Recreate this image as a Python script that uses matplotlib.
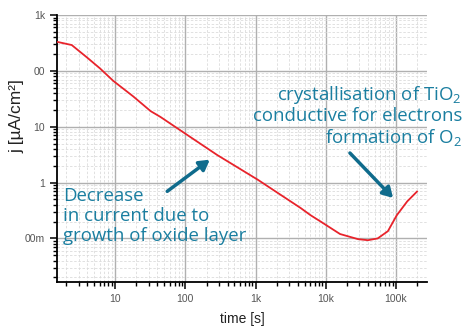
import numpy as np
import matplotlib
matplotlib.use("Agg")
from matplotlib import pyplot as plt
from matplotlib import ticker

# dados (tempo em s, densidade de corrente em uA/cm2)
tempo = [1.5, 2.4, 4.0, 6.1, 9.4, 18, 32, 44, 100, 286, 1070, 4400, 6100,
         8500, 16000, 29000, 40000, 55000, 77000, 103000, 145000, 200000]
corrente = [330, 290, 172, 110, 66, 35, 19, 15, 7.5, 3.1, 1.13, 0.35, 0.26,
            0.2, 0.12, 0.097, 0.093, 0.1, 0.135, 0.26, 0.46, 0.69]

x_ticks = [10, 100, 1e3, 1e4, 1e5]
x_labels = ['10', '100', '1k', '10k', '100k']
y_ticks = [1000, 100, 10, 1, 0.1]
y_labels = ['1k', '00', '10', '1', '00m']

texto_esq = 'Decrease\nin current due to\ngrowth of oxide layer'
texto_dir = 'crystallisation of TiO$_2$\nconductive for electrons\nformation of O$_2$'

plt.rcParams['mathtext.fontset'] = 'custom'
plt.rcParams['mathtext.rm'] = 'Open Sans'
plt.rcParams['mathtext.it'] = 'Open Sans:italic'

azul = '#1a7ea0'
seta = '#0f6b8c'

fig = plt.figure(figsize=(4.65, 3.27), dpi=100)
ax = fig.add_axes([0.1226, 0.1376, 0.7955, 0.8165])

ax.plot(tempo, corrente, color='#e8232b', lw=1.3, zorder=3)
ax.set_xscale('log')
ax.set_yscale('log')
ax.set_xlim(1.48, 277000)
ax.set_ylim(0.0166, 1000)

ax.xaxis.set_major_locator(ticker.FixedLocator(x_ticks))
ax.xaxis.set_major_formatter(ticker.FixedFormatter(x_labels))
ax.yaxis.set_major_locator(ticker.FixedLocator(y_ticks))
ax.yaxis.set_major_formatter(ticker.FixedFormatter(y_labels))
ax.xaxis.set_minor_locator(ticker.LogLocator(base=10, subs=np.arange(2, 10)))
ax.yaxis.set_minor_locator(ticker.LogLocator(base=10, subs=np.arange(2, 10)))
ax.xaxis.set_minor_formatter(ticker.NullFormatter())
ax.yaxis.set_minor_formatter(ticker.NullFormatter())

ax.grid(True, which='major', color='#b0b0b0', lw=1.0)
ax.grid(True, which='minor', color='#dcdcdc', lw=0.6, ls=(0, (3, 2)))
ax.set_axisbelow(True)

for lado in ['top', 'right']:
    ax.spines[lado].set_visible(False)
ax.spines['left'].set_linewidth(1.3)
ax.spines['bottom'].set_linewidth(1.3)
ax.tick_params(which='major', length=5, width=1.1, labelsize=7.5,
               labelcolor='#555555', direction='out')
ax.tick_params(which='minor', length=3, width=1.0, direction='out')

ax.set_xlabel('time [s]', fontsize=10, color='#222222', family='Liberation Sans')
ax.xaxis.label.set_va('bottom')
ax.xaxis.set_label_coords(0.5, -0.163)
ax.set_ylabel('j [µA/cm²]', fontsize=12.5, color='#222222', family='Liberation Sans')
ax.yaxis.set_label_coords(-0.089, 0.62)
for t in ax.get_xticklabels() + ax.get_yticklabels():
    t.set_family('Liberation Sans')

# textos e setas
ax.text(0.016, 0.355, texto_esq, transform=ax.transAxes, fontsize=13.4,
        color=azul, family='Open Sans', ha='left', va='top', linespacing=1.14)
ax.annotate('', xy=(212, 327 - 158), xytext=(165, 327 - 193),
            xycoords='figure pixels', textcoords='figure pixels',
            arrowprops=dict(arrowstyle='-|>,head_length=0.6,head_width=0.35',
                            color=seta, lw=2.5))
fig.text(462 / 465, 1 - 84 / 327, texto_dir, fontsize=13.4, color=azul,
         family='Open Sans', ha='right', va='top', linespacing=1.1)
ax.annotate('', xy=(395, 327 - 200), xytext=(348, 327 - 151),
            xycoords='figure pixels', textcoords='figure pixels',
            arrowprops=dict(arrowstyle='-|>,head_length=0.6,head_width=0.35',
                            color=seta, lw=2.5))

plt.savefig('out.png', dpi=100)
